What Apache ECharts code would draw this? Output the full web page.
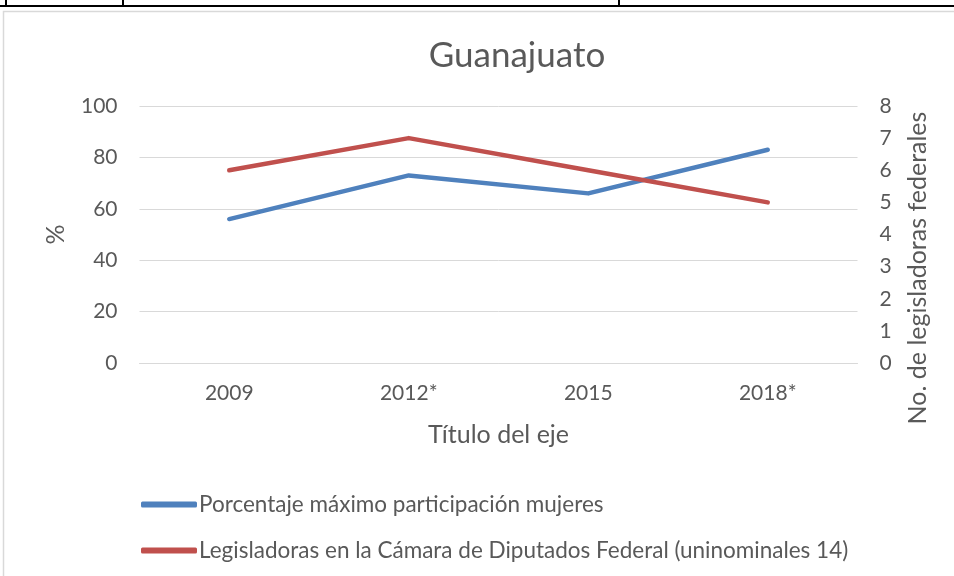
<!DOCTYPE html>
<html>
<head>
<meta charset="utf-8">
<script src="https://cdn.jsdelivr.net/npm/echarts@6/dist/echarts.min.js"></script>
<style>html,body{margin:0;padding:0;background:#fff}#c{width:954px;height:576px}</style>
</head>
<body>
<div id="c"></div>
<script>
var categories = ['2009', '2012*', '2015', '2018*'];
var porcentaje = [56, 73, 66, 83];
var legisladoras = [6, 7, 6, 5];
var leftTicks = [0, 20, 40, 60, 80, 100];
var rightTicks = [0, 1, 2, 3, 4, 5, 6, 7, 8];

var FONT = 'Lato, "Liberation Sans", sans-serif';
var GREY = '#595959';
var chart = echarts.init(document.getElementById('c'));
chart.setOption({
  backgroundColor: '#fff',
  animation: false,
  title: {
    text: 'Guanajuato', left: 512, top: 33, textAlign: 'center',
    textStyle: { fontFamily: FONT, fontSize: 35, fontWeight: 'normal', color: GREY }
  },
  grid: { left: 139.5, right: 96.5, top: 106, bottom: 213, containLabel: false },
  legend: {
    orient: 'vertical', left: 136, top: 488, itemWidth: 56, itemHeight: 6, itemGap: 23,
    icon: 'roundRect',
    textStyle: { fontFamily: FONT, fontSize: 22.5, lineHeight: 22, color: GREY, padding: [0, 0, 0, -3] },
    data: ['Porcentaje máximo participación mujeres', 'Legisladoras en la Cámara de Diputados Federal (uninominales 14)']
  },
  xAxis: {
    type: 'category', data: categories, boundaryGap: true,
    name: 'Título del eje', nameLocation: 'middle', nameGap: 59,
    nameTextStyle: { fontFamily: FONT, fontSize: 25, color: GREY },
    axisLine: { show: true, lineStyle: { color: '#d9d9d9', width: 1 } },
    axisTick: { show: false },
    axisLabel: { fontFamily: FONT, fontSize: 21, color: GREY, margin: 20 }
  },
  yAxis: [{
    type: 'value', min: leftTicks[0], max: leftTicks[leftTicks.length - 1], interval: 20,
    name: '%', nameLocation: 'middle', nameGap: 71, nameRotate: 90,
    nameTextStyle: { fontFamily: FONT, fontSize: 25, color: GREY },
    axisLine: { show: false }, axisTick: { show: false },
    axisLabel: { fontFamily: FONT, fontSize: 21, color: GREY, margin: 22 },
    splitLine: { lineStyle: { color: '#d9d9d9', width: 1 } }
  }, {
    type: 'value', position: 'right', min: rightTicks[0], max: rightTicks[rightTicks.length - 1], interval: 1,
    name: 'No. de legisladoras federales', nameLocation: 'middle', nameGap: 48, nameRotate: 90,
    nameTextStyle: { fontFamily: FONT, fontSize: 25, color: GREY, padding: [0, 67, 0, 0] },
    axisLine: { show: false }, axisTick: { show: false },
    axisLabel: { fontFamily: FONT, fontSize: 21, color: GREY, margin: 22 },
    splitLine: { show: false }
  }],
  series: [{
    name: 'Porcentaje máximo participación mujeres', type: 'line', yAxisIndex: 0,
    data: porcentaje, symbol: 'none', color: '#4F81BD',
    lineStyle: { width: 4.5, color: '#4F81BD', cap: 'round', join: 'round' }
  }, {
    name: 'Legisladoras en la Cámara de Diputados Federal (uninominales 14)', type: 'line', yAxisIndex: 1,
    data: legisladoras, symbol: 'none', color: '#C0504D',
    lineStyle: { width: 4.5, color: '#C0504D', cap: 'round', join: 'round' }
  }],
  graphic: [
    { type: 'rect', shape: { x: 3.5, y: 11.5, width: 1000, height: 700 }, style: { fill: 'none', stroke: '#d9d9d9', lineWidth: 1.5 }, silent: true },
    { type: 'line', shape: { x1: 0, y1: 6, x2: 954, y2: 6 }, style: { stroke: '#000', lineWidth: 2 } },
    { type: 'line', shape: { x1: 6, y1: 0, x2: 6, y2: 6 }, style: { stroke: '#000', lineWidth: 2 } },
    { type: 'line', shape: { x1: 123, y1: 0, x2: 123, y2: 6 }, style: { stroke: '#000', lineWidth: 2 } },
    { type: 'line', shape: { x1: 619, y1: 0, x2: 619, y2: 6 }, style: { stroke: '#000', lineWidth: 2 } }
  ]
});
</script>
</body>
</html>
